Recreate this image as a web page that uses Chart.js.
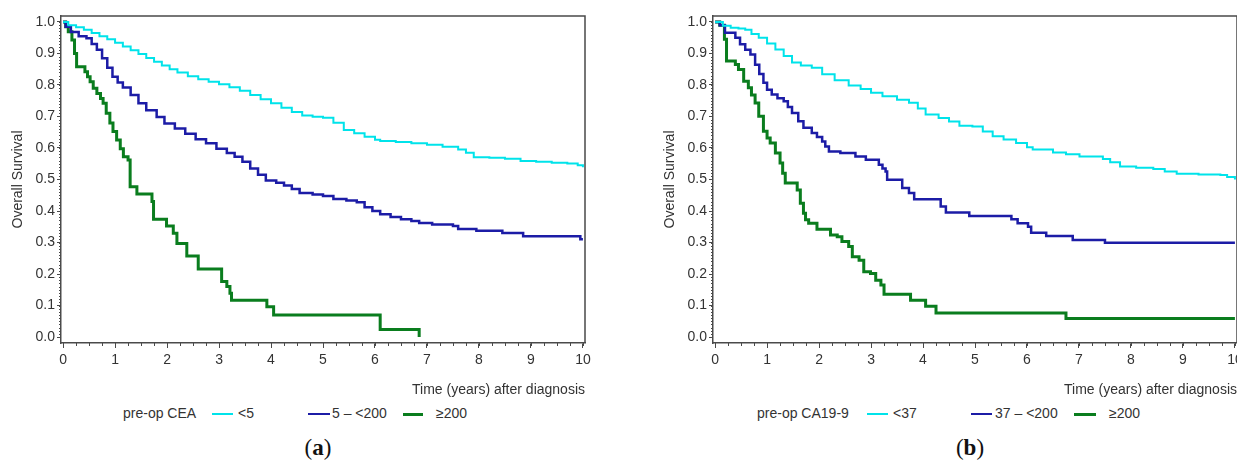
<!DOCTYPE html>
<html>
<head>
<meta charset="utf-8">
<script src="https://cdn.jsdelivr.net/npm/chart.js@4.4.1/dist/chart.umd.min.js"></script>
<style>
  body { margin: 0; width: 1237px; height: 468px; overflow: hidden; background: #fff; position: relative; font-family: "Liberation Sans", Arial, sans-serif; }
  canvas { position: absolute; top: 0; }
  #chartA { left: 0; }
  #chartB { left: 652px; }
  .lg { position: absolute; top: 405px; font-size: 14px; color: #333; line-height: 17px; white-space: nowrap; }
  .sw { position: absolute; top: 413px; height: 0; }
  .cap { position: absolute; top: 435px; width: 60px; text-align: center; font-family: "Liberation Serif", "DejaVu Serif", serif; font-size: 23px; color: #111; }
</style>
</head>
<body>
<canvas id="chartA" width="600" height="400"></canvas>
<canvas id="chartB" width="600" height="400"></canvas>

<!-- legend (a) -->
<div class="lg" style="left:123px">pre-op CEA</div>
<div class="sw" style="left:212px;width:21px;border-top:2px solid #00e3ea"></div>
<div class="lg" style="left:238px">&lt;5</div>
<div class="sw" style="left:308px;width:22px;border-top:2.5px solid #1c1ca6"></div>
<div class="lg" style="left:332px">5 – &lt;200</div>
<div class="sw" style="left:403px;width:20px;border-top:3px solid #0a7d1e"></div>
<div class="lg" style="left:436px">≥200</div>
<div class="cap" style="left:288px">(<b>a</b>)</div>

<!-- legend (b) -->
<div class="lg" style="left:757px">pre-op CA19-9</div>
<div class="sw" style="left:867px;width:21px;border-top:2px solid #00e3ea"></div>
<div class="lg" style="left:893px">&lt;37</div>
<div class="sw" style="left:971px;width:21px;border-top:2.5px solid #1c1ca6"></div>
<div class="lg" style="left:995px">37 – &lt;200</div>
<div class="sw" style="left:1074px;width:22px;border-top:3px solid #0a7d1e"></div>
<div class="lg" style="left:1109px">≥200</div>
<div class="cap" style="left:940px">(<b>b</b>)</div>

<script>
// tick values
var xTicks = [0, 1, 2, 3, 4, 5, 6, 7, 8, 9, 10];
var yTicks = [0, 0.1, 0.2, 0.3, 0.4, 0.5, 0.6, 0.7, 0.8, 0.9, 1.0];

// (a) pre-op CEA, <5
var ceaLowT = [0, 0.1, 0.25, 0.4, 0.55, 0.7, 0.85, 1.0, 1.15, 1.3, 1.45, 1.6, 1.75, 1.9, 2.05, 2.2, 2.4, 2.6, 2.8, 3.0, 3.2, 3.4, 3.6, 3.8, 4.0, 4.2, 4.4, 4.6, 4.8, 5.0, 5.2, 5.4, 5.6, 5.8, 6.0, 6.1, 6.4, 6.7, 7.0, 7.3, 7.6, 7.75, 7.9, 8.2, 8.5, 8.8, 9.1, 9.4, 9.7, 9.9, 10.0];
var ceaLowS = [1.0, 0.99, 0.983, 0.975, 0.965, 0.955, 0.945, 0.934, 0.922, 0.91, 0.898, 0.886, 0.874, 0.862, 0.85, 0.84, 0.828, 0.818, 0.81, 0.802, 0.793, 0.782, 0.768, 0.755, 0.742, 0.728, 0.714, 0.703, 0.699, 0.696, 0.68, 0.657, 0.647, 0.636, 0.626, 0.622, 0.619, 0.615, 0.61, 0.604, 0.595, 0.585, 0.571, 0.569, 0.566, 0.559, 0.556, 0.553, 0.551, 0.545, 0.539];
// (a) 5 - <200
var ceaMidT = [0, 0.05, 0.15, 0.3, 0.45, 0.55, 0.65, 0.75, 0.85, 0.95, 1.05, 1.15, 1.3, 1.45, 1.6, 1.8, 1.95, 2.15, 2.35, 2.55, 2.75, 2.95, 3.15, 3.3, 3.45, 3.6, 3.75, 3.9, 4.1, 4.25, 4.4, 4.55, 4.8, 5.0, 5.2, 5.45, 5.65, 5.8, 5.95, 6.1, 6.3, 6.5, 6.7, 6.85, 7.1, 7.5, 7.6, 7.95, 8.45, 8.85, 9.95, 10.0];
var ceaMidS = [1.0, 0.985, 0.968, 0.955, 0.948, 0.93, 0.912, 0.885, 0.855, 0.826, 0.808, 0.792, 0.768, 0.742, 0.72, 0.698, 0.678, 0.662, 0.645, 0.628, 0.615, 0.598, 0.584, 0.572, 0.556, 0.535, 0.515, 0.497, 0.49, 0.481, 0.47, 0.457, 0.452, 0.448, 0.438, 0.433, 0.428, 0.412, 0.4, 0.39, 0.381, 0.374, 0.368, 0.362, 0.357, 0.352, 0.343, 0.337, 0.33, 0.32, 0.31, 0.31];
// (a) >=200
var ceaHighT = [0, 0.05, 0.1, 0.17, 0.22, 0.26, 0.42, 0.47, 0.52, 0.58, 0.65, 0.72, 0.77, 0.83, 0.9, 0.96, 1.03, 1.1, 1.16, 1.25, 1.29, 1.42, 1.71, 1.74, 1.99, 2.12, 2.19, 2.38, 2.6, 3.05, 3.15, 3.21, 3.24, 3.92, 4.05, 6.1, 6.85];
var ceaHighS = [1.0, 0.985, 0.969, 0.943, 0.9, 0.858, 0.842, 0.826, 0.81, 0.79, 0.773, 0.757, 0.742, 0.71, 0.679, 0.652, 0.625, 0.598, 0.572, 0.562, 0.477, 0.454, 0.43, 0.374, 0.352, 0.329, 0.297, 0.257, 0.216, 0.176, 0.16, 0.139, 0.117, 0.096, 0.07, 0.024, 0.0];

// (b) pre-op CA19-9, <37
var caLowT = [0, 0.15, 0.3, 0.45, 0.58, 0.7, 0.84, 1.0, 1.16, 1.32, 1.48, 1.65, 1.86, 2.06, 2.3, 2.57, 2.8, 3.0, 3.22, 3.5, 3.73, 3.9, 4.05, 4.3, 4.5, 4.7, 4.95, 5.15, 5.34, 5.55, 5.79, 6.0, 6.11, 6.5, 6.75, 7.01, 7.46, 7.6, 7.79, 8.1, 8.43, 8.65, 8.88, 9.3, 9.72, 9.85, 10.0];
var caLowS = [1.0, 0.988, 0.982, 0.979, 0.975, 0.962, 0.95, 0.932, 0.913, 0.892, 0.871, 0.862, 0.855, 0.834, 0.815, 0.798, 0.787, 0.775, 0.764, 0.753, 0.744, 0.725, 0.706, 0.695, 0.684, 0.671, 0.668, 0.652, 0.637, 0.627, 0.616, 0.602, 0.595, 0.586, 0.58, 0.573, 0.565, 0.555, 0.541, 0.537, 0.533, 0.525, 0.518, 0.516, 0.514, 0.508, 0.5];
// (b) 37 - <200
var caMidT = [0, 0.09, 0.19, 0.39, 0.48, 0.58, 0.68, 0.77, 0.85, 0.93, 1.0, 1.09, 1.2, 1.32, 1.4, 1.48, 1.6, 1.7, 1.86, 1.96, 2.06, 2.12, 2.19, 2.41, 2.7, 2.9, 3.15, 3.22, 3.28, 3.31, 3.6, 3.73, 3.83, 4.34, 4.44, 4.89, 5.7, 5.82, 6.02, 6.08, 6.37, 6.88, 7.5, 10.0];
var caMidS = [1.0, 0.99, 0.966, 0.95, 0.929, 0.912, 0.897, 0.864, 0.835, 0.807, 0.785, 0.77, 0.758, 0.748, 0.73, 0.711, 0.685, 0.664, 0.648, 0.635, 0.621, 0.605, 0.589, 0.584, 0.573, 0.563, 0.547, 0.535, 0.525, 0.499, 0.473, 0.457, 0.437, 0.414, 0.395, 0.384, 0.374, 0.361, 0.35, 0.331, 0.321, 0.308, 0.299, 0.299];
// (b) >=200
var caHighT = [0, 0.09, 0.18, 0.22, 0.39, 0.45, 0.55, 0.64, 0.7, 0.77, 0.84, 0.93, 1.0, 1.06, 1.16, 1.25, 1.3, 1.35, 1.58, 1.64, 1.7, 1.74, 1.8, 1.96, 2.22, 2.35, 2.44, 2.57, 2.64, 2.77, 2.86, 2.99, 3.09, 3.19, 3.25, 3.76, 4.05, 4.25, 6.75, 10.0];
var caHighS = [1.0, 0.99, 0.945, 0.876, 0.865, 0.849, 0.812, 0.791, 0.768, 0.743, 0.701, 0.653, 0.632, 0.616, 0.584, 0.552, 0.52, 0.489, 0.467, 0.425, 0.393, 0.372, 0.361, 0.342, 0.324, 0.318, 0.303, 0.287, 0.255, 0.244, 0.207, 0.202, 0.18, 0.165, 0.136, 0.117, 0.098, 0.076, 0.059, 0.059];

var seriesColors = ['#00e3ea', '#1c1ca6', '#0a7d1e'];
var seriesWidths = [2, 2.5, 3];
var axisColor = '#4a4a4a';

Chart.defaults.font.family = '"Liberation Sans", Arial, sans-serif';
Chart.defaults.font.size = 14;
Chart.defaults.color = '#333';

function toPoints(t, s) {
    var pts = [];
    for (let i = 0; i < t.length; i++) {
        pts.push({x: t[i], y: s[i]});
    }
    return pts;
}

// top/right frame plus minor ticks on both axes
var framePlugin = {
    id: 'frame',
    afterDraw: function(chart) {
        var ctx = chart.ctx;
        var a = chart.chartArea;
        var xs = chart.scales.x, ys = chart.scales.y;
        ctx.save();
        ctx.strokeStyle = axisColor;
        ctx.lineWidth = 1.5;
        ctx.beginPath();
        ctx.moveTo(a.left, a.top);
        ctx.lineTo(a.right, a.top);
        ctx.lineTo(a.right, a.bottom);
        ctx.stroke();
        ctx.lineWidth = 1;
        ctx.beginPath();
        for (let v = 0; v <= 10.001; v += 0.25) {
            var px = Math.round(xs.getPixelForValue(v)) + 0.5;
            ctx.moveTo(px, a.bottom);
            ctx.lineTo(px, a.bottom + 3);
        }
        for (let k = 0; k <= 100; k++) {
            var py = Math.round(ys.getPixelForValue(k / 100)) + 0.5;
            ctx.moveTo(a.left - 2, py);
            ctx.lineTo(a.left, py);
        }
        ctx.stroke();
        ctx.restore();
    }
};

function makeChart(id, series) {
    var datasets = series.map(function(s, i) {
        return {
            data: toPoints(s[0], s[1]),
            borderColor: seriesColors[i],
            borderWidth: seriesWidths[i],
            stepped: true,
            pointRadius: 0,
            fill: false
        };
    });
    return new Chart(document.getElementById(id), {
        type: 'line',
        data: { datasets: datasets },
        plugins: [framePlugin],
        options: {
            responsive: false,
            animation: false,
            layout: { padding: { top: 16, right: 15, left: 0, bottom: 0 } },
            plugins: { legend: { display: false }, tooltip: { enabled: false } },
            scales: {
                x: {
                    type: 'linear',
                    min: -0.04,
                    max: 10.04,
                    afterBuildTicks: function(scale) {
                        scale.ticks = xTicks.map(function(v) { return {value: v}; });
                    },
                    afterFit: function(scale) { scale.height = 57; },
                    ticks: { padding: 4, maxRotation: 0, color: '#333' },
                    grid: { display: true, drawOnChartArea: false, tickLength: 5, color: axisColor, lineWidth: 1 },
                    border: { display: true, color: axisColor, width: 1.5 },
                    title: { display: true, text: 'Time (years) after diagnosis', align: 'end', padding: { top: 0, bottom: 1 }, color: '#333' }
                },
                y: {
                    type: 'linear',
                    min: -0.019,
                    max: 1.019,
                    afterBuildTicks: function(scale) {
                        scale.ticks = yTicks.map(function(v) { return {value: v}; });
                    },
                    afterFit: function(scale) { scale.width = 61; },
                    ticks: {
                        padding: 2,
                        color: '#333',
                        callback: function(v) { return v.toFixed(1); }
                    },
                    grid: { display: true, drawOnChartArea: false, tickLength: 4, color: axisColor, lineWidth: 1 },
                    border: { display: true, color: axisColor, width: 1.5 },
                    title: { display: true, text: 'Overall Survival', padding: { top: 9.5, bottom: 0 }, color: '#333' }
                }
            }
        }
    });
}

makeChart('chartA', [[ceaLowT, ceaLowS], [ceaMidT, ceaMidS], [ceaHighT, ceaHighS]]);
makeChart('chartB', [[caLowT, caLowS], [caMidT, caMidS], [caHighT, caHighS]]);
</script>
</body>
</html>
